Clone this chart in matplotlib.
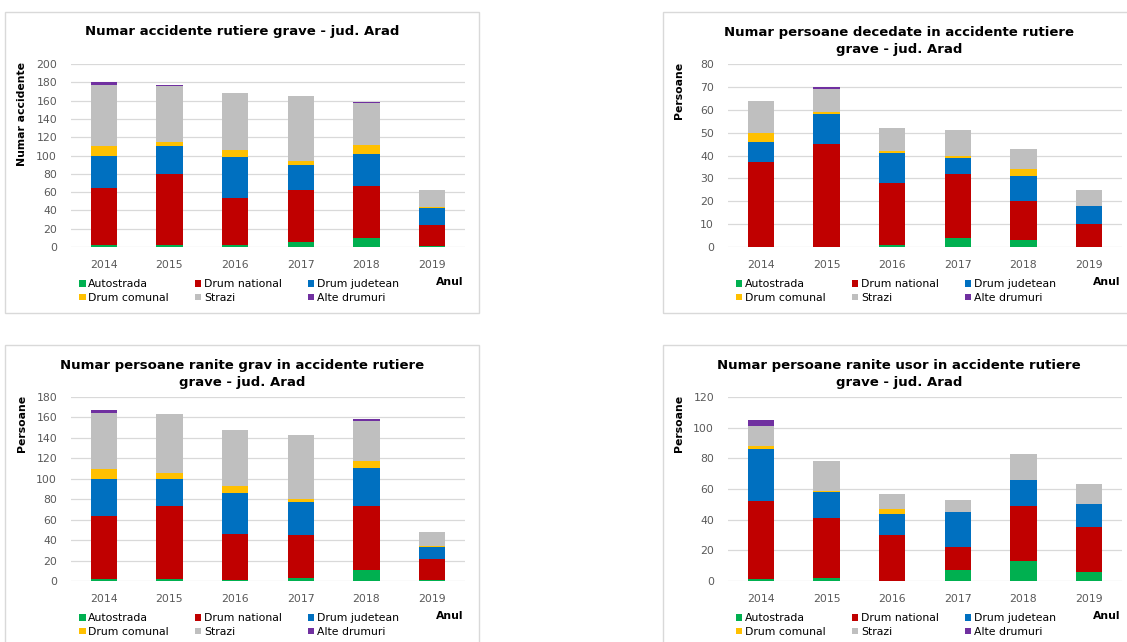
import numpy as np
import matplotlib.pyplot as plt
from matplotlib.patches import Rectangle

W, H = 1127, 642

years = ["2014", "2015", "2016", "2017", "2018", "2019"]
series = ["Autostrada", "Drum national", "Drum judetean", "Drum comunal", "Strazi", "Alte drumuri"]
colors = ["#00B050", "#C00000", "#0070C0", "#FFC000", "#BFBFBF", "#7030A0"]

# one row per series (same order as `series`), one value per year
accidente = [
    [2, 2, 2, 6, 10, 1],
    [62, 78, 52, 56, 57, 23],
    [36, 30, 44, 28, 35, 19],
    [10, 5, 8, 4, 9, 1],
    [67, 61, 62, 71, 46, 18],
    [3, 1, 0, 0, 1, 0],
]
decedati = [
    [0, 0, 1, 4, 3, 0],
    [37, 45, 27, 28, 17, 10],
    [9, 13, 13, 7, 11, 8],
    [4, 1, 1, 1, 3, 0],
    [14, 10, 10, 11, 9, 7],
    [0, 1, 0, 0, 0, 0],
]
raniti_grav = [
    [2, 2, 1, 3, 11, 1],
    [62, 71, 45, 42, 62, 21],
    [36, 27, 40, 32, 38, 11],
    [10, 6, 7, 3, 6, 1],
    [54, 57, 55, 63, 40, 14],
    [3, 0, 0, 0, 1, 0],
]
raniti_usor = [
    [1, 2, 0, 7, 13, 6],
    [51, 39, 30, 15, 36, 29],
    [34, 17, 14, 23, 17, 15],
    [2, 1, 3, 0, 0, 0],
    [13, 19, 10, 8, 17, 13],
    [4, 0, 0, 0, 0, 0],
]

fig = plt.figure(figsize=(W / 100, H / 100), dpi=100)


def fbox(l, t, r, b):
    return [l / W, 1 - b / H, (r - l) / W, (b - t) / H]


panels = [
    (accidente, "Numar accidente rutiere grave - jud. Arad", "Numar accidente", 200, 20,
     (5, 12, 479, 313), (71, 64, 465, 247), (242, 32)),
    (decedati, "Numar persoane decedate in accidente rutiere\ngrave - jud. Arad", "Persoane", 80, 10,
     (663, 12, 1140, 313), (728, 64, 1122, 247), (899, 41)),
    (raniti_grav, "Numar persoane ranite grav in accidente rutiere\ngrave - jud. Arad", "Persoane", 180, 20,
     (5, 345, 479, 650), (71, 397, 465, 581), (242, 374)),
    (raniti_usor, "Numar persoane ranite usor in accidente rutiere\ngrave - jud. Arad", "Persoane", 120, 20,
     (663, 345, 1140, 650), (728, 397, 1122, 581), (899, 374)),
]

order = [0, 3, 1, 4, 2, 5]
small = 7.8

for data, title, ylabel, ymax, step, pbox, abox, tpos in panels:
    l, t, r, b = pbox
    fig.add_artist(Rectangle((l / W, 1 - b / H), (r - l) / W, (b - t) / H,
                             transform=fig.transFigure, fill=False,
                             edgecolor="#D9D9D9", linewidth=1))
    ax = fig.add_axes(fbox(*abox))
    x = np.arange(len(years))
    bottom = np.zeros(len(years))
    for vals, name, c in zip(data, series, colors):
        ax.bar(x, vals, 0.4, bottom=bottom, color=c, label=name, zorder=3)
        bottom += np.array(vals)
    ax.set_xlim(-0.5, 5.5)
    ax.set_ylim(0, ymax)
    ax.set_yticks(np.arange(0, ymax + 1, step))
    ax.set_xticks(x)
    ax.set_xticklabels(years)
    for s in ax.spines.values():
        s.set_visible(False)
    ax.grid(axis="y", color="#D9D9D9", linewidth=0.9, zorder=0)
    ax.tick_params(length=0, colors="#595959", labelsize=small)
    ax.tick_params(axis="x", pad=9)
    ax.tick_params(axis="y", pad=10)
    ax.set_ylabel(ylabel, loc="top", fontweight="bold", fontsize=small)
    ax.yaxis.set_label_coords(-0.112, 1.01)

    fig.text(tpos[0] / W, 1 - tpos[1] / H, title, ha="center", va="center",
             fontweight="bold", fontsize=9.5, linespacing=1.45)

    al, at, ar, ab = abox
    fig.text((ar - 15) / W, 1 - (ab + 35) / H, "Anul", ha="center", va="center",
             fontweight="bold", fontsize=small)

    h, lab = ax.get_legend_handles_labels()
    ax.legend([h[i] for i in order], [lab[i] for i in order], ncol=3,
              loc="upper left", bbox_to_anchor=((al + 8) / W, 1 - (ab + 32) / H),
              bbox_transform=fig.transFigure, frameon=False, fontsize=small,
              handlelength=0.6, handleheight=0.6, handletextpad=0.25,
              columnspacing=2.4, labelspacing=0.35, borderpad=0, borderaxespad=0)

fig.savefig("out.png", dpi=100)
